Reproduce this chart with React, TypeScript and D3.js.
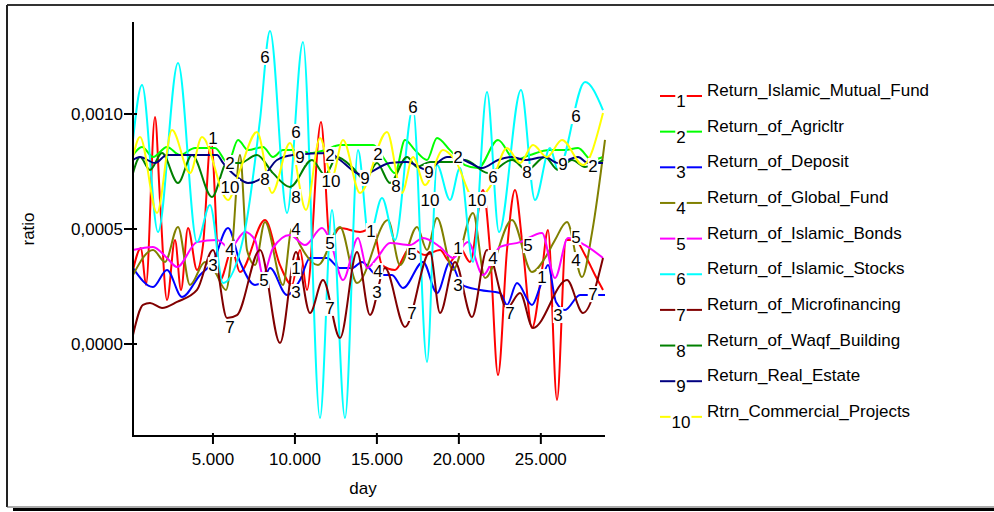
import React from 'react';
import * as d3 from 'd3';

const seriesNames = [
  'Return_Islamic_Mutual_Fund',
  'Return_of_Agricltr',
  'Return_of_Deposit',
  'Return_of_Global_Fund',
  'Return_of_Islamic_Bonds',
  'Return_of_Islamic_Stocks',
  'Return_of_Microfinancing',
  'Return_of_Waqf_Building',
  'Return_Real_Estate',
  'Rtrn_Commercial_Projects',
];
const seriesColors = ['#ff0000', '#00ff00', '#0000ff', '#808000', '#ff00ff', '#00ffff', '#800000', '#008000', '#000080', '#ffff00'];

const s1Days = [122, 610, 915, 1464, 1769, 2196, 2684, 3050, 3477, 4026, 4392, 4880, 5429, 6161, 6649, 8174, 9089, 9821, 10309, 10736, 11590, 12139, 12749, 13969, 14762, 15311, 16104, 17019, 17934, 18849, 19459, 20069, 20679, 21472, 21899, 22387, 22936, 23424, 23912, 24461, 25071, 25437, 25986, 26535, 27084, 27694, 28304, 28792];
const s1Vals = [3.22e-4, 4.17e-4, 2.57e-4, 9.87e-4, 6.26e-4, 1.91e-4, 4.52e-4, 2.35e-4, 5.04e-4, 3.22e-4, 4.3e-4, 8.87e-4, 2.78e-4, 4.09e-4, 3.13e-4, 5.39e-4, 3.43e-4, 2.57e-4, 4.09e-4, 2.35e-4, 9.65e-4, 4.52e-4, 5.04e-4, 4.87e-4, 5.04e-4, 3.43e-4, 3.22e-4, 4.17e-4, 3.87e-4, 4.09e-4, 3.57e-4, 4.17e-4, 3.57e-4, 6.7e-4, 4.09e-4, -1.35e-4, 4.09e-4, 6.7e-4, 4.09e-4, 0.7e-4, 3.22e-4, 4.96e-4, -2.43e-4, 4.52e-4, 4.52e-4, 3.87e-4, 3.0e-4, 2.35e-4];

const s2Days = [122, 671, 1342, 2196, 2989, 3904, 5124, 5917, 6527, 7137, 8052, 8662, 9272, 10309, 10919, 11834, 12749, 14762, 15494, 16104, 16714, 17324, 18056, 18666, 19459, 20374, 21167, 22387, 23424, 24339, 25559, 26474, 27267, 28121, 28792];
const s2Vals = [8.22e-4, 8.57e-4, 8.13e-4, 8.57e-4, 8.22e-4, 8.52e-4, 8.52e-4, 7.87e-4, 8.87e-4, 8.43e-4, 8.57e-4, 8.13e-4, 8.43e-4, 8.43e-4, 8.3e-4, 8.43e-4, 8.65e-4, 8.65e-4, 8.0e-4, 7.43e-4, 8.87e-4, 8.43e-4, 8.0e-4, 8.96e-4, 8.43e-4, 7.78e-4, 7.65e-4, 8.87e-4, 8.0e-4, 8.22e-4, 8.43e-4, 8.43e-4, 8.52e-4, 8.0e-4, 8.13e-4];

const s3Days = [122, 1342, 2196, 3111, 4209, 5002, 5917, 6649, 7564, 8052, 8479, 9516, 10309, 10919, 11956, 12749, 13481, 14091, 15006, 15921, 16592, 17812, 18666, 19459, 20191, 21289, 22509, 22936, 23546, 24461, 24949, 25437, 25925, 26474, 27389, 28304, 28914];
const s3Vals = [3.3e-4, 2.48e-4, 3.22e-4, 2.04e-4, 3.0e-4, 3.57e-4, 5.04e-4, 3.57e-4, 2.57e-4, 2.7e-4, 3.3e-4, 2.13e-4, 2.78e-4, 3.74e-4, 3.74e-4, 3.3e-4, 3.3e-4, 3.57e-4, 3.0e-4, 3.0e-4, 2.43e-4, 3.57e-4, 2.22e-4, 3.57e-4, 2.57e-4, 2.35e-4, 2.22e-4, 1.7e-4, 2.65e-4, 1.7e-4, 2.48e-4, 3.43e-4, 1.83e-4, 1.48e-4, 2.13e-4, 2.13e-4, 2.13e-4];

const s4Days = [122, 1342, 2074, 2867, 3599, 4514, 5124, 5795, 6161, 6649, 7076, 7564, 8174, 9272, 9821, 10309, 11407, 12749, 13786, 15677, 16409, 17446, 18056, 18666, 19642, 20862, 21594, 23241, 24461, 25254, 25864, 26596, 27511, 28121, 28914];
const s4Vals = [3.0e-4, 4.09e-4, 3.57e-4, 5.09e-4, 2.57e-4, 3.57e-4, 3.13e-4, 2.35e-4, 4.09e-4, 8.22e-4, 4.09e-4, 3.43e-4, 5.3e-4, 2.57e-4, 5.04e-4, 4.3e-4, 3.43e-4, 5.09e-4, 2.65e-4, 5.39e-4, 3.43e-4, 5.09e-4, 4.09e-4, 5.48e-4, 3.22e-4, 5.7e-4, 2.87e-4, 5.39e-4, 3.13e-4, 3.74e-4, 4.52e-4, 5.3e-4, 2.91e-4, 4.83e-4, 8.87e-4];

const s5Days = [122, 1342, 2196, 2806, 4026, 5246, 6039, 6954, 7564, 8052, 8662, 9699, 10614, 11651, 12139, 12932, 13847, 14396, 15006, 15799, 17019, 17812, 18849, 19642, 20557, 21472, 22509, 23729, 25071, 25864, 26657, 27694, 28792];
const s5Vals = [4.09e-4, 4.22e-4, 3.74e-4, 3.35e-4, 4.43e-4, 4.52e-4, 4.17e-4, 4.87e-4, 4.52e-4, 3.0e-4, 4.17e-4, 4.74e-4, 4.3e-4, 5.04e-4, 4.52e-4, 2.78e-4, 4.61e-4, 3.3e-4, 3.74e-4, 4.39e-4, 4.3e-4, 4.61e-4, 4.22e-4, 3.74e-4, 4.43e-4, 3.0e-4, 4.22e-4, 4.43e-4, 4.83e-4, 2.87e-4, 4.61e-4, 4.3e-4, 3.74e-4];

const s6Days = [122, 671, 1647, 2867, 4026, 4819, 5612, 6954, 7869, 8479, 9516, 10492, 11529, 12261, 13054, 13847, 14518, 15311, 16104, 17202, 18056, 18666, 19459, 20069, 20862, 21716, 22448, 23790, 24644, 25559, 26047, 27694, 28792];
const s6Vals = [8.87e-4, 11.26e-4, 4.87e-4, 12.22e-4, 4.43e-4, 6.04e-4, 2.65e-4, 4.96e-4, 9.74e-4, 13.61e-4, 5.7e-4, 13.13e-4, -3.22e-4, 5.83e-4, -3.22e-4, 8.43e-4, 4.61e-4, 6.35e-4, 4.52e-4, 10.26e-4, -0.78e-4, 7.78e-4, 6.26e-4, 7.65e-4, 3.57e-4, 10.96e-4, 4.87e-4, 11.04e-4, 6.26e-4, 8.52e-4, 7.57e-4, 11.39e-4, 10.17e-4];

const s7Days = [122, 732, 1159, 1891, 2806, 4026, 5002, 5856, 6466, 7869, 9089, 10065, 10919, 11712, 12749, 13786, 14579, 15494, 16714, 18239, 18849, 19764, 20801, 21716, 22936, 23729, 24522, 26596, 27572, 28792];
const s7Vals = [0.39e-4, 1.7e-4, 1.78e-4, 1.57e-4, 1.83e-4, 2.35e-4, 4.09e-4, 1.13e-4, 1.26e-4, 4.09e-4, 0.04e-4, 4.0e-4, 1.35e-4, 2.78e-4, 0.26e-4, 4.0e-4, 1.26e-4, 3.3e-4, 0.74e-4, 4.0e-4, 1.35e-4, 3.57e-4, 1.17e-4, 4.09e-4, 1.57e-4, 2.22e-4, 0.7e-4, 2.78e-4, 1.35e-4, 3.74e-4];

const s8Days = [122, 549, 1159, 1891, 2867, 3721, 4941, 5856, 6649, 7686, 8662, 9699, 11041, 11834, 12566, 13542, 14274, 15006, 15799, 16836, 17446, 18239, 19642, 20374, 21777, 23241, 24156, 25254, 26047, 26901, 27694, 28792];
const s8Vals = [7.43e-4, 8.13e-4, 7.57e-4, 8.3e-4, 7.0e-4, 8.22e-4, 6.39e-4, 7.87e-4, 7.87e-4, 8.22e-4, 7.43e-4, 6.83e-4, 8.0e-4, 7.35e-4, 8.13e-4, 7.65e-4, 7.13e-4, 7.87e-4, 7.0e-4, 8.13e-4, 7.7e-4, 7.91e-4, 7.91e-4, 8.0e-4, 7.43e-4, 8.0e-4, 7.57e-4, 8.13e-4, 7.57e-4, 8.0e-4, 7.7e-4, 8.0e-4];

const s9Days = [122, 549, 1464, 2196, 5246, 5612, 6466, 7137, 8052, 8906, 9882, 12139, 12749, 14091, 15799, 16836, 18056, 19276, 19764, 20679, 21411, 22387, 23241, 24034, 25254, 26047, 27267, 27877, 28792];
const s9Vals = [8.0e-4, 8.13e-4, 7.87e-4, 8.22e-4, 8.22e-4, 7.87e-4, 7.26e-4, 7.0e-4, 7.26e-4, 8.0e-4, 8.22e-4, 8.3e-4, 8.0e-4, 7.35e-4, 7.87e-4, 7.91e-4, 7.57e-4, 8.13e-4, 8.13e-4, 7.87e-4, 7.65e-4, 8.0e-4, 8.13e-4, 8.0e-4, 8.13e-4, 7.87e-4, 8.13e-4, 7.87e-4, 7.87e-4];

const s10Days = [122, 549, 1586, 2501, 3599, 4331, 5917, 6649, 7686, 8601, 9699, 10675, 11529, 12261, 12932, 13969, 15616, 16531, 17202, 17934, 19032, 19764, 20984, 21899, 22936, 23729, 24522, 25376, 26291, 27572, 28792];
const s10Vals = [8.13e-4, 9.0e-4, 5.7e-4, 9.3e-4, 7.43e-4, 9.0e-4, 6.26e-4, 7.57e-4, 9.22e-4, 6.57e-4, 8.74e-4, 5.83e-4, 8.96e-4, 7.26e-4, 8.87e-4, 6.57e-4, 9.22e-4, 6.57e-4, 8.13e-4, 6.91e-4, 8.43e-4, 8.0e-4, 6.26e-4, 6.83e-4, 8.52e-4, 7.87e-4, 8.65e-4, 8.13e-4, 8.87e-4, 7.78e-4, 10.04e-4];

// numbered curve markers: day and value where each marker sits
const s1MarkDays = [5000, 10070, 14640, 19950, 25070];
const s1MarkVals = [8.96e-4, 3.3e-4, 4.91e-4, 4.17e-4, 2.91e-4];
const s2MarkDays = [6040, 12140, 15070, 19950, 28180];
const s2MarkVals = [7.87e-4, 8.22e-4, 8.26e-4, 8.13e-4, 7.74e-4];
const s3MarkDays = [5000, 10070, 15010, 19950, 26050];
const s3MarkVals = [3.43e-4, 2.26e-4, 2.26e-4, 2.57e-4, 1.26e-4];
const s4MarkDays = [6040, 10070, 15070, 22080, 27150];
const s4MarkVals = [4.13e-4, 5.0e-4, 3.17e-4, 3.74e-4, 3.65e-4];
const s5MarkDays = [8110, 12140, 17140, 24220, 27150];
const s5MarkVals = [2.78e-4, 4.39e-4, 3.91e-4, 4.3e-4, 4.65e-4];
const s6MarkDays = [8170, 10070, 17200, 22080, 27150];
const s6MarkVals = [12.48e-4, 9.22e-4, 10.3e-4, 7.26e-4, 9.91e-4];
const s7MarkDays = [6040, 12140, 17140, 23120, 28180];
const s7MarkVals = [0.74e-4, 1.57e-4, 1.35e-4, 1.35e-4, 2.17e-4];
const s8MarkDays = [8170, 10070, 16170, 24160];
const s8MarkVals = [7.17e-4, 6.39e-4, 6.87e-4, 7.48e-4];
const s9MarkDays = [10310, 14270, 18180, 26350];
const s9MarkVals = [8.13e-4, 7.22e-4, 7.48e-4, 7.83e-4];
const s10MarkDays = [6040, 12200, 18240, 21110];
const s10MarkVals = [6.83e-4, 7.09e-4, 6.26e-4, 6.26e-4];

const xTicks = [5000, 10000, 15000, 20000, 25000];
const yTicks = [0, 0.0005, 0.001];
const xDomain = [122, 28914];
const yDomain = [-0.0004, 0.0014];

const allDays = [s1Days, s2Days, s3Days, s4Days, s5Days, s6Days, s7Days, s8Days, s9Days, s10Days];
const allVals = [s1Vals, s2Vals, s3Vals, s4Vals, s5Vals, s6Vals, s7Vals, s8Vals, s9Vals, s10Vals];
const allMarkDays = [s1MarkDays, s2MarkDays, s3MarkDays, s4MarkDays, s5MarkDays, s6MarkDays, s7MarkDays, s8MarkDays, s9MarkDays, s10MarkDays];
const allMarkVals = [s1MarkVals, s2MarkVals, s3MarkVals, s4MarkVals, s5MarkVals, s6MarkVals, s7MarkVals, s8MarkVals, s9MarkVals, s10MarkVals];

const FONT = '"Liberation Sans", Arial, sans-serif';
const FS = 17;

const locale = d3.formatLocale({ decimal: ',', thousands: '.', grouping: [3], currency: ['', ''] });
const fmtY = locale.format('.4f');
const fmtX = locale.format(',.0f');

export default function App() {
  const W = 994, H = 512;
  const left = 133, right = 605, top = 22, bottom = 436;
  const x = d3.scaleLinear().domain(xDomain).range([left, right]);
  const y = d3.scaleLinear().domain(yDomain).range([bottom, top]);

  const line = d3
    .line<[number, number]>()
    .x((d) => x(d[0]))
    .y((d) => y(d[1]))
    .curve(d3.curveMonotoneX);

  const legendX0 = 660, legendX1 = 702, legendY0 = 96, legendStep = 35.65;
  const digitW = FS * 0.556;

  return (
    <svg width={W} height={H} style={{ position: 'absolute', left: 0, top: 0, background: '#fff' }} fontFamily={FONT}>
      <rect x={0} y={0} width={W} height={H} fill="#fff" />
      {/* frame */}
      <line x1={7} y1={5} x2={W} y2={5} stroke="#333" strokeWidth={2} />
      <line x1={7} y1={5} x2={7} y2={507} stroke="#222" strokeWidth={2} />
      <line x1={7} y1={507} x2={W} y2={507} stroke="#555" strokeWidth={1} />
      <line x1={13} y1={509.5} x2={W} y2={509.5} stroke="#000" strokeWidth={3} />

      {/* series lines */}
      <g>
        {allDays.map((days, i) => {
          const pts: [number, number][] = days.map((d, j) => [d, allVals[i][j]]);
          return (
            <path key={i} d={line(pts) || ''} fill="none" stroke={seriesColors[i]} strokeWidth={2} strokeLinejoin="round" />
          );
        })}
      </g>

      {/* curve number markers */}
      <g fontSize={FS} textAnchor="middle">
        {allMarkDays.map((mds, i) =>
          mds.map((d, k) => {
            const cx = x(d);
            const cy = y(allMarkVals[i][k]);
            const txt = String(i + 1);
            const w = txt.length * digitW + 1;
            return (
              <g key={`${i}-${k}`}>
                <rect x={cx - w / 2} y={cy - 8} width={w} height={16} fill="#fff" />
                <text x={cx} y={cy} dy="0.35em" fill="#000">{txt}</text>
              </g>
            );
          })
        )}
      </g>

      {/* axes */}
      <line x1={left} y1={top} x2={left} y2={bottom + 1} stroke="#000" strokeWidth={2} />
      <line x1={left - 1} y1={bottom} x2={right} y2={bottom} stroke="#000" strokeWidth={2} />
      {yTicks.map((t) => (
        <g key={t}>
          <line x1={left - 9} x2={left + 4} y1={y(t)} y2={y(t)} stroke="#000" strokeWidth={2} />
          <text x={left - 10} y={y(t)} dy="0.35em" textAnchor="end" fontSize={FS} fill="#000">{fmtY(t)}</text>
        </g>
      ))}
      {xTicks.map((t) => (
        <g key={t}>
          <line x1={x(t)} x2={x(t)} y1={bottom - 3} y2={bottom + 8} stroke="#000" strokeWidth={2} />
          <text x={x(t)} y={465} textAnchor="middle" fontSize={FS} fill="#000">{fmtX(t)}</text>
        </g>
      ))}
      <text x={363} y={494} textAnchor="middle" fontSize={FS} fill="#000">day</text>
      <text transform="translate(34,229) rotate(-90)" textAnchor="middle" fontSize={FS} fill="#000">ratio</text>

      {/* legend */}
      <g fontSize={FS}>
        {seriesNames.map((name, i) => {
          const ly = legendY0 + i * legendStep;
          const num = String(i + 1);
          const gap = num.length * digitW + 2;
          const mid = (legendX0 + legendX1) / 2;
          return (
            <g key={name}>
              <line x1={legendX0} x2={mid - gap / 2} y1={ly} y2={ly} stroke={seriesColors[i]} strokeWidth={2} />
              <line x1={mid + gap / 2} x2={legendX1} y1={ly} y2={ly} stroke={seriesColors[i]} strokeWidth={2} />
              <text x={mid} y={ly + 11} textAnchor="middle" fill="#000">{num}</text>
              <text x={707} y={ly} fill="#000">{name}</text>
            </g>
          );
        })}
      </g>
    </svg>
  );
}
